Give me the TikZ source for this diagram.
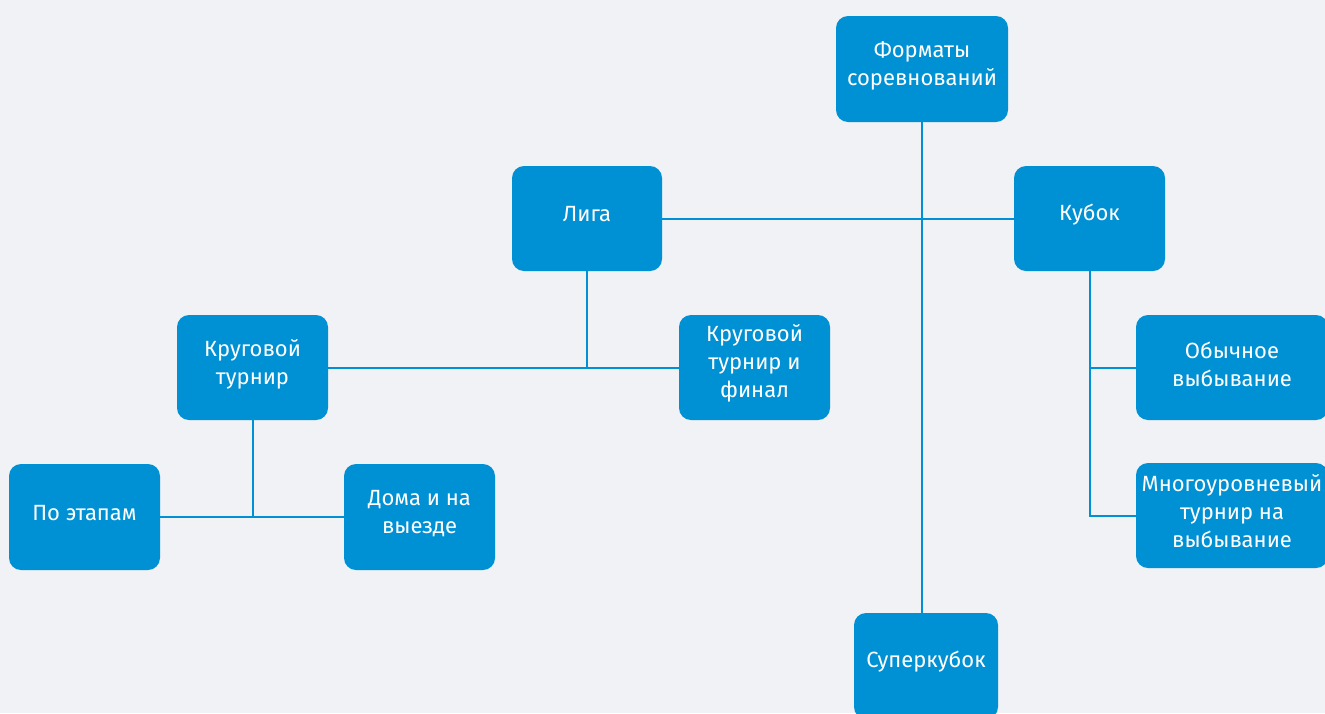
\documentclass[tikz,border=0pt]{standalone}
\usepackage{fontspec}
\setmainfont{Fira Sans}
\definecolor{bg}{HTML}{F0F2F5}
\definecolor{boxblue}{HTML}{0091D4}
\tikzset{
  box/.style={fill=boxblue, draw=none, rounded corners=12pt, inner sep=0pt},
  txt/.style={text=white, align=center, font=\fontsize{22}{28}\selectfont, inner sep=0pt},
  conn/.style={draw=boxblue, line width=2pt},
}
\newcommand\mybox[6]{%
  \node[box, minimum width=#3, minimum height=#4] (#1) at (#2) {};
  \node[txt] (#1t) at ([yshift=#5]#1.center) {#6};
}
\begin{document}
\begin{tikzpicture}[x=1pt,y=-1pt]
\useasboundingbox (0,0) rectangle (1325,713);
\clip (0,0) rectangle (1325,713);
\fill[bg] (0,0) rectangle (1325,713);
\mybox{fmt}{922,69}{172pt}{106pt}{3.5pt}{Форматы\\соревнований}
\mybox{liga}{587,218.5}{150pt}{105pt}{4pt}{Лига}
\mybox{kubok}{1089.5,218.5}{151pt}{105pt}{4pt}{Кубок}
\mybox{krug}{252.5,367.5}{151pt}{105pt}{3.5pt}{Круговой\\турнир}
\mybox{krugfin}{754.5,367.5}{151pt}{105pt}{4pt}{Круговой\\турнир и\\финал}
\mybox{etap}{84.5,517}{151pt}{106pt}{4pt}{По этапам}
\mybox{doma}{419.5,517}{151pt}{106pt}{3.5pt}{Дома и на\\выезде}
\mybox{obych}{1232,367.5}{192pt}{105pt}{3.5pt}{Обычное\\выбывание}
\mybox{mnogo}{1232,515.5}{192pt}{105pt}{4pt}{Многоуровневый\\турнир на\\выбывание}
\mybox{super}{926,666}{144pt}{106pt}{4pt}{Суперкубок}
% connectors
\draw[conn] (fmt.south) -- (fmt.south |- super.north);
\draw[conn] (liga.east) -- (kubok.west);
\draw[conn] (liga.south) -- (liga.south |- krug.east);
\draw[conn] (krug.east) -- (krugfin.west);
\draw[conn] (krug.south) -- (krug.south |- etap.east);
\draw[conn] (etap.east) -- (doma.west);
\draw[conn] (kubok.south) |- (mnogo.west);
\draw[conn] (kubok.south |- obych.west) -- (obych.west);
\end{tikzpicture}
\end{document}
